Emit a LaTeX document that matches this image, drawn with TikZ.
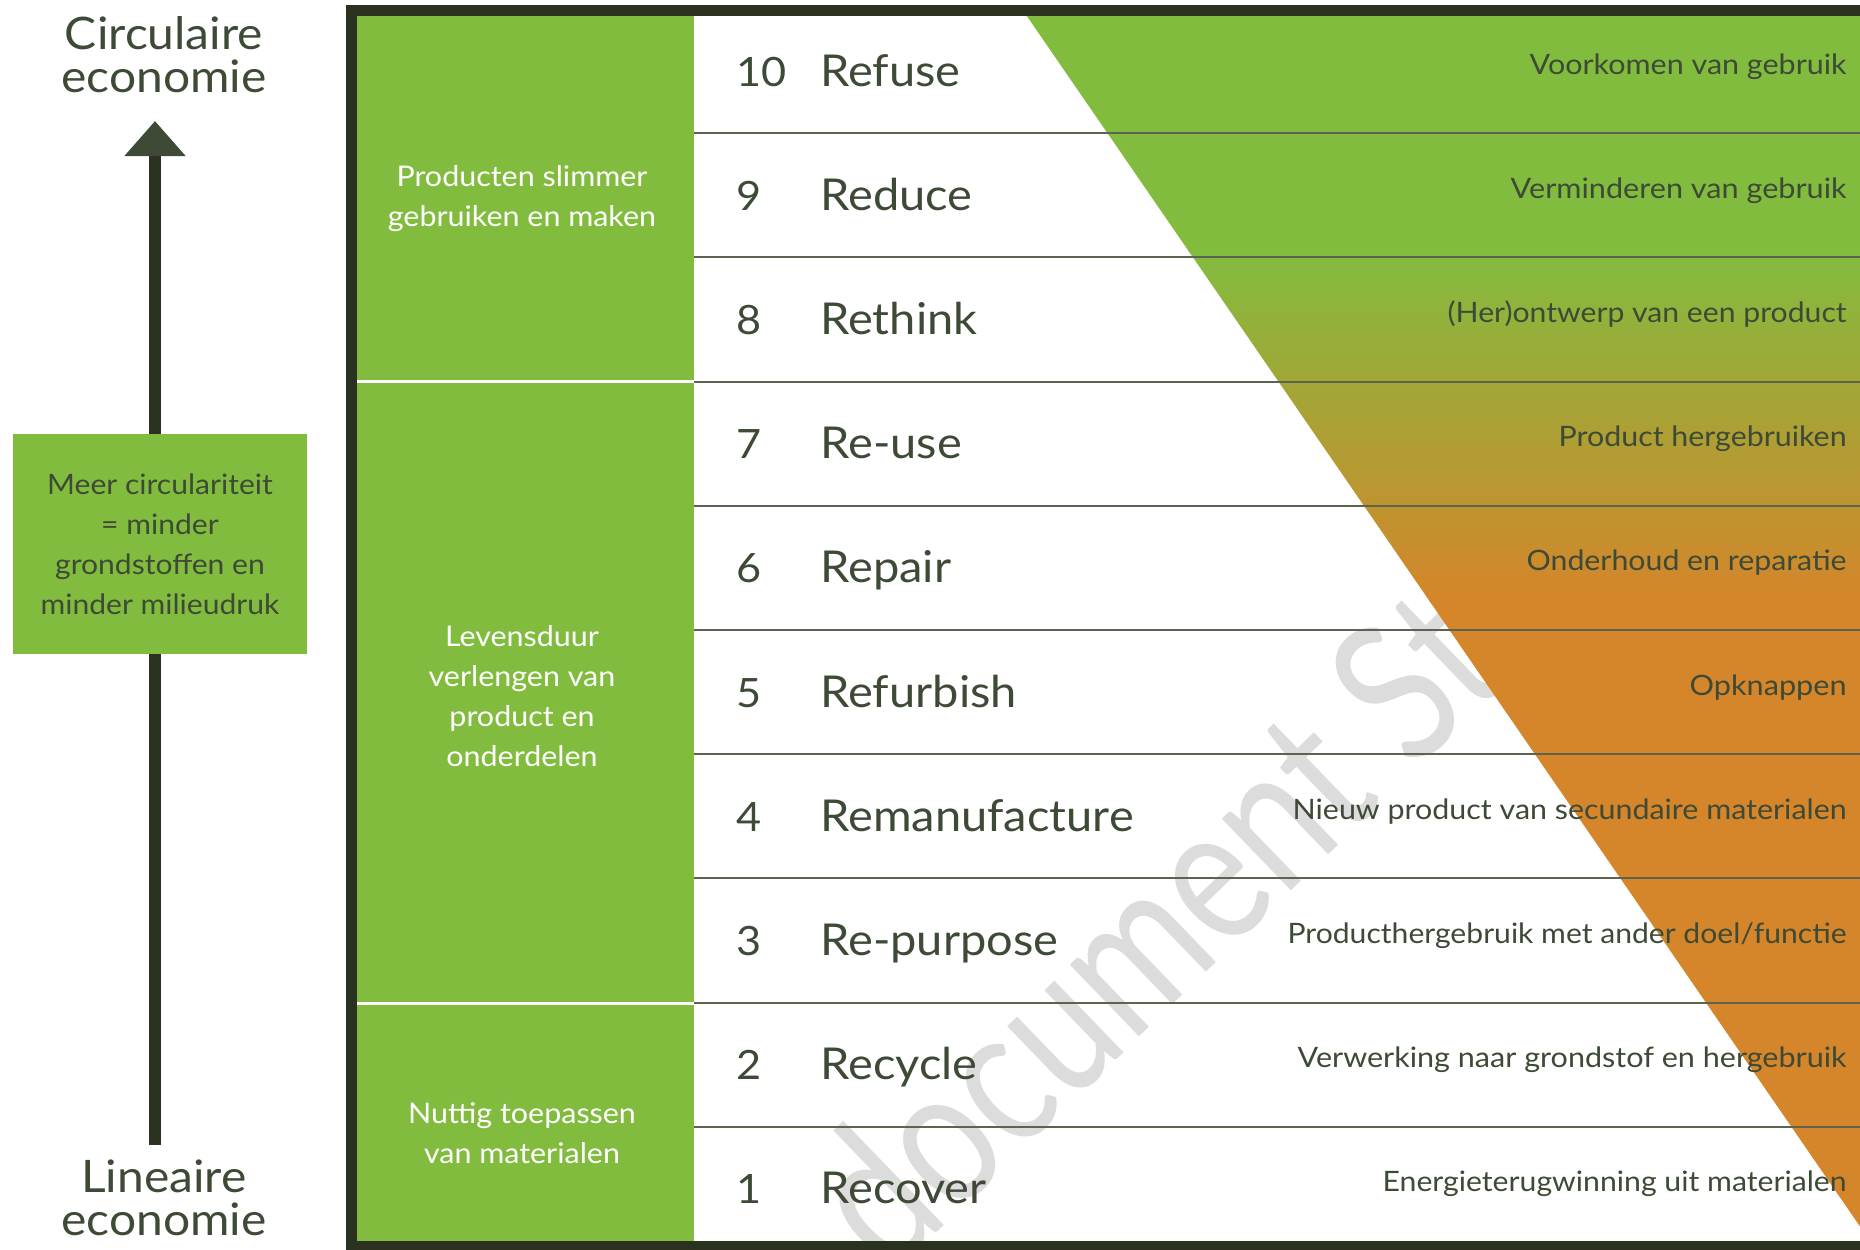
\documentclass[tikz,border=0pt]{standalone}
\usepackage{fontspec}
\setmainfont{Lato}[FakeStretch=1.07]
\usepackage{xcolor}
\usepackage{graphicx}
\usetikzlibrary{positioning,calc,arrows.meta}

\definecolor{lgreen}{HTML}{82BC3F}
\definecolor{midolive}{HTML}{B0AD33}
\definecolor{orng}{HTML}{D5852A}
\definecolor{darkc}{HTML}{2B311F}
\definecolor{headc}{HTML}{3E4A35}
\definecolor{textc}{HTML}{3D4A36}
\definecolor{linec}{HTML}{5A6450}
\definecolor{wmgrey}{HTML}{DCDCDC}

\begin{document}
\begin{tikzpicture}[x=0.02cm, y=-0.02cm,
    rownum/.style={anchor=base west, text=textc, inner sep=0pt, font=\fontsize{23pt}{23pt}\selectfont},
    rowlbl/.style={anchor=base west, text=textc, inner sep=0pt, font=\fontsize{25pt}{25pt}\selectfont},
    rowdesc/.style={anchor=base east, text=textc, inner sep=0pt, font=\fontsize{16pt}{16pt}\selectfont},
    grouptxt/.style={text=white, align=center, inner sep=0pt, font=\fontsize{16.2pt}{22.8pt}\selectfont},
    sidetxt/.style={text=textc, align=center, inner sep=0pt, font=\fontsize{25.5pt}{24.5pt}\selectfont},
    meerbox/.style={fill=lgreen, text=textc, align=center, minimum width=5.88cm, minimum height=4.4cm, inner sep=0pt, font=\fontsize{16pt}{22.8pt}\selectfont},
    rowline/.style={linec, line width=0.04cm}]
  \useasboundingbox (0,0) rectangle (1860,1249);
  \clip (0,0) rectangle (1860,1249);

  % Watermark
  \node[text=wmgrey, anchor=mid west, rotate=44, inner sep=0pt, font=\fontsize{112pt}{112pt}\selectfont] (wmark) at (886,1276) {\scalebox{0.74}[1]{document St}};

  % Gradient triangle
  \begin{scope}
    \clip (1022,9) -- (1870,9) -- (1870,1241) -- cycle;
    \fill[lgreen] (1000,0) rectangle (1870,252);
    \shade[top color=lgreen, middle color=midolive, bottom color=orng] (1000,250) rectangle (1870,602);
    \fill[orng] (1000,600) rectangle (1870,1260);
  \end{scope}

  % Rows
  \foreach \i in {1,...,9}
    \draw[rowline] (694,{9+\i*124.2}) -- (1860,{9+\i*124.2});
  \foreach \n/\lbl/\desc/\w in {10/Refuse/Voorkomen van gebruik/317,
      9/Reduce/Verminderen van gebruik/336,
      8/Rethink/{(Her)ontwerp van een product}/399,
      7/Re-use/Product hergebruiken/288,
      6/Repair/Onderhoud en reparatie/320,
      5/Refurbish/Opknappen/157,
      4/Remanufacture/Nieuw product van secundaire materialen/554,
      3/Re-purpose/{Producthergebruik met ander doel/functie}/559,
      2/Recycle/Verwerking naar grondstof en hergebruik/549,
      1/Recover/Energieterugwinning uit materialen/464} {
    \pgfmathsetmacro\yc{9+(10.5-\n)*124.2}
    \pgfmathsetmacro\dw{\w*0.02}
    \node[rownum] (num\n) at (736,\yc+15) {\n};
    \node[rowlbl] (lbl\n) at (820,\yc+15) {\lbl};
    \node[rowdesc] (desc\n) at (1847,\yc+3) {\resizebox{\dw cm}{\height}{\desc}};
  }

  % Green column
  \fill[lgreen] (357,9) rectangle (694,1249);
  \draw[white, line width=0.06cm] (357,381) -- (694,381);
  \draw[white, line width=0.06cm] (357,1003) -- (694,1003);
  \node[grouptxt] (grp1) at (522,199) {Producten slimmer\\gebruiken en maken};
  \node[grouptxt] (grp2) at (522,696) {Levensduur\\verlengen van\\product en\\onderdelen};
  \node[grouptxt] (grp3) at (522,1133) {Nuttig toepassen\\van materialen};

  % Frame
  \draw[darkc, line width=0.22cm] (351,10.5) rectangle (1920,1246.5);

  % Left side
  \node[sidetxt] (circ) at (164,55) {Circulaire\\economie};
  \node[sidetxt] (lin) at (164,1198) {Lineaire\\economie};
  \coordinate (arrowbot) at (155,1145);
  \coordinate (arrowtop) at (155,121);
  \draw[darkc, line width=0.24cm, -{Triangle[width=1.18cm, length=0.7cm, color=headc]}] (arrowbot) -- (arrowtop);
  \node[meerbox] (meer) at (160,544) {Meer circulariteit\\= minder\\grondstoffen en\\minder milieudruk};
\end{tikzpicture}
\end{document}
